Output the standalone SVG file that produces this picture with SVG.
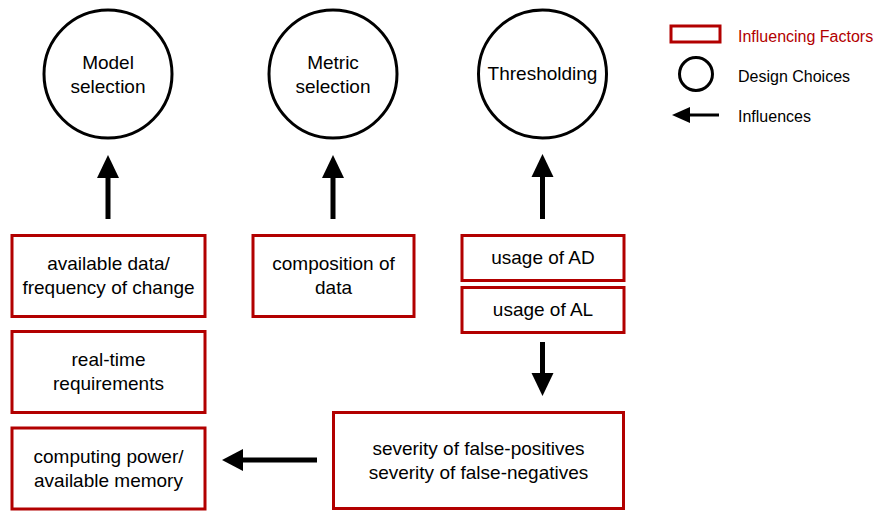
<svg xmlns="http://www.w3.org/2000/svg" width="878" height="511" viewBox="0 0 878 511">
<style>
.factor rect{fill:#fff;stroke:#b20000;stroke-width:3}
.choice circle{fill:#fff;stroke:#000;stroke-width:3}
text{font-family:"Liberation Sans",Arial,sans-serif;font-size:19px;fill:#000;text-anchor:middle}
.leg{font-size:16px;text-anchor:start}
.legred{fill:#b20000}
.conn line{stroke:#000;stroke-width:5}
.conn path{fill:#000}
</style>
<rect width="878" height="511" fill="#fff"/>
<g id="model-selection" class="choice"><circle cx="108" cy="74" r="64"/><text x="108" y="69">Model</text><text x="108" y="93">selection</text></g>
<g id="metric-selection" class="choice"><circle cx="333" cy="74" r="64"/><text x="333" y="69">Metric</text><text x="333" y="93">selection</text></g>
<g id="thresholding" class="choice"><circle cx="542.5" cy="74" r="64"/><text x="542.5" y="80">Thresholding</text></g>
<g id="available-data" class="factor"><rect x="12" y="235.5" width="193" height="81"/><text x="108.5" y="270">available data/</text><text x="108.5" y="294">frequency of change</text></g>
<g id="composition" class="factor"><rect x="253" y="235.5" width="161" height="81"/><text x="333.5" y="270">composition of</text><text x="333.5" y="294">data</text></g>
<g id="real-time" class="factor"><rect x="12" y="331.5" width="193" height="81"/><text x="108.5" y="366">real-time</text><text x="108.5" y="390">requirements</text></g>
<g id="computing" class="factor"><rect x="12" y="428" width="193" height="81"/><text x="108.5" y="463">computing power/</text><text x="108.5" y="487">available memory</text></g>
<g id="usage-ad" class="factor"><rect x="462" y="235.5" width="162" height="45"/><text x="543" y="264">usage of AD</text></g>
<g id="usage-al" class="factor"><rect x="462" y="287.5" width="162" height="45"/><text x="543" y="316">usage of AL</text></g>
<g id="severity" class="factor"><rect x="333.5" y="412.5" width="290" height="96"/><text x="478.5" y="455">severity of false-positives</text><text x="478.5" y="479">severity of false-negatives</text></g>
<g id="connectors" class="conn">
<line x1="108" y1="219" x2="108" y2="176"/><path d="M97 178 L108 155 L119 178 Z"/>
<line x1="333" y1="219" x2="333" y2="176"/><path d="M322 178 L333 155 L344 178 Z"/>
<line x1="542.5" y1="219" x2="542.5" y2="175"/><path d="M531.5 177 L542.5 154 L553.5 177 Z"/>
<line x1="542.5" y1="342" x2="542.5" y2="375"/><path d="M531.5 373 L542.5 396 L553.5 373 Z"/>
<line x1="317" y1="460" x2="241" y2="460"/><path d="M243 449 L222 460 L243 471 Z"/>
</g>
<g id="legend">
<rect x="671" y="26" width="49" height="16" fill="#fff" stroke="#b20000" stroke-width="3"/>
<text class="leg legred" x="738" y="42">Influencing Factors</text>
<circle cx="696" cy="74" r="16.5" fill="#fff" stroke="#000" stroke-width="3"/>
<text class="leg" x="738" y="82">Design Choices</text>
<line x1="719" y1="115" x2="688" y2="115" stroke="#000" stroke-width="3"/>
<path d="M690 107 L672 115 L690 123 Z" fill="#000"/>
<text class="leg" x="738" y="122">Influences</text>
</g>
</svg>
